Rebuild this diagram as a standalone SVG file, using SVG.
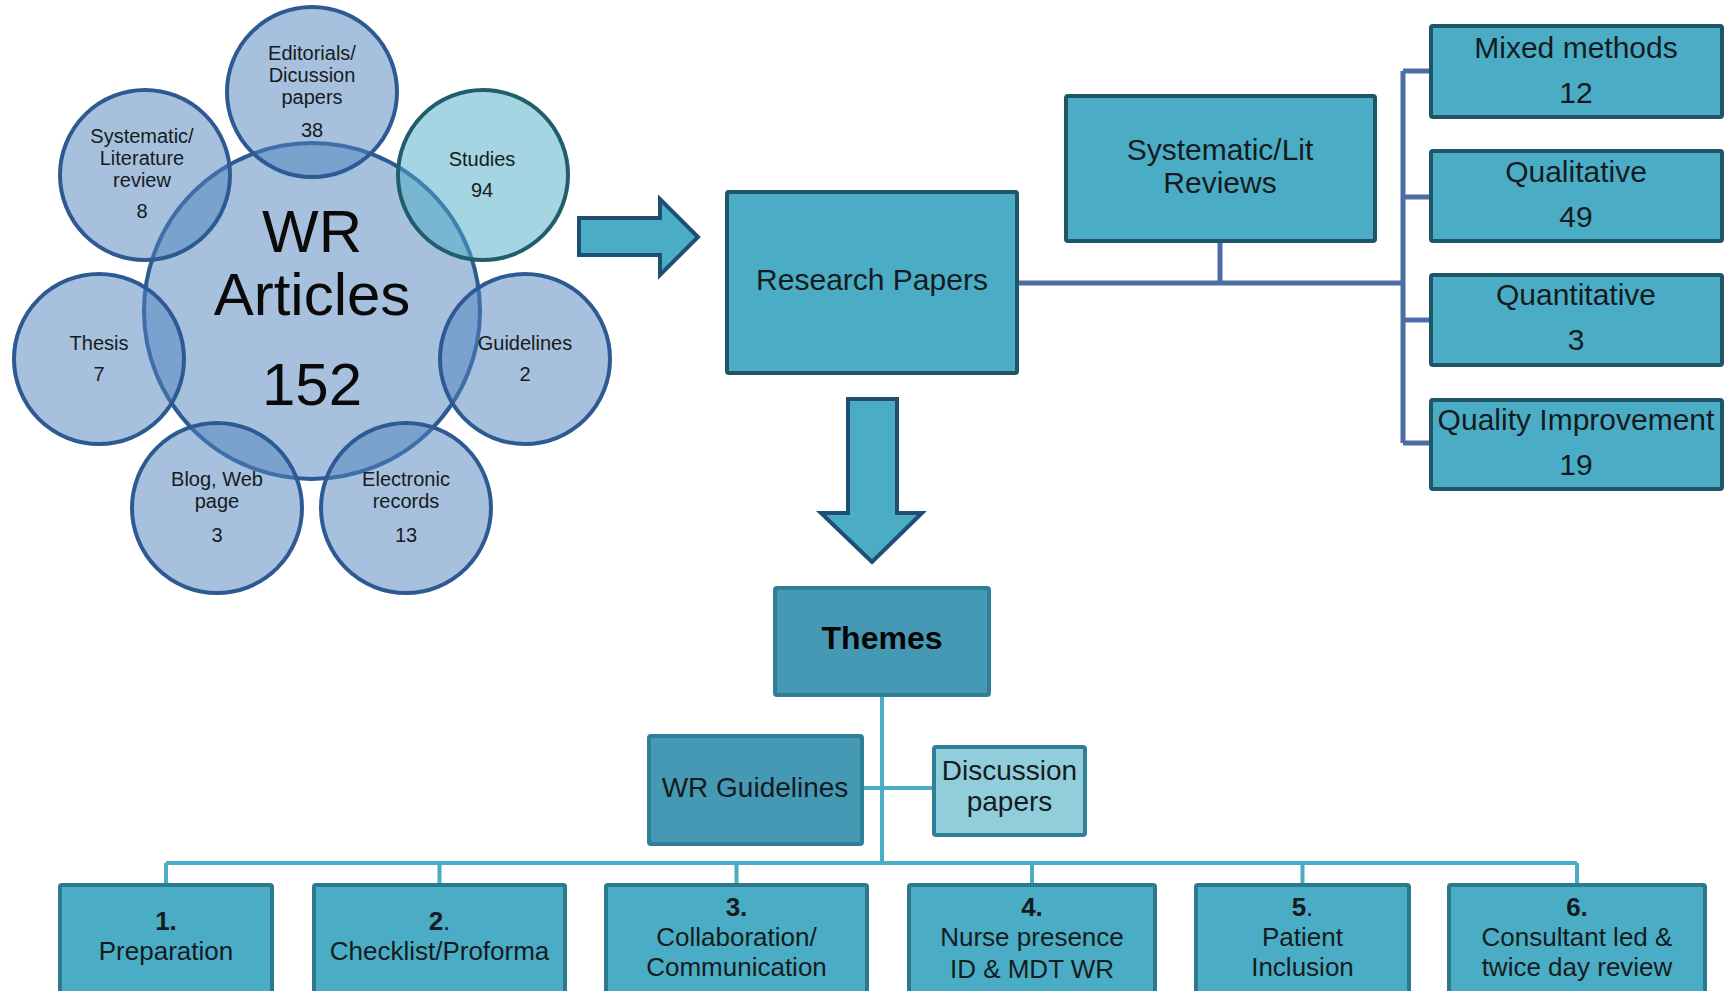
<svg xmlns="http://www.w3.org/2000/svg" width="1730" height="991" viewBox="0 0 1730 991">
  <style>
    text { font-family: "Liberation Sans", Arial, sans-serif; fill: #141c20; text-anchor: middle; }
    .bubble { fill: #4f81bd; fill-opacity: 0.5; stroke: #2e5a93; stroke-width: 4; }
    .bubble-study { fill: #4bacc6; fill-opacity: 0.5; stroke: #205e6c; stroke-width: 4; }
    .ct { font-size: 20px; }
    .big { font-size: 60px; fill: #0a0a0a; }
    .box { fill: #4bacc6; stroke: #1f5566; stroke-width: 4; }
    .box-dark { fill: #4699b5; stroke: #2f7f98; stroke-width: 4; }
    .box-light { fill: #92cddc; stroke: #2f7f98; stroke-width: 4; }
    .box-theme { fill: #4bacc6; stroke: #2c7990; stroke-width: 4; }
    .arrow { fill: #4bacc6; stroke: #1f4f70; stroke-width: 4; stroke-linejoin: miter; }
    .t30 { font-size: 30px; }
    .t28 { font-size: 28px; }
    .t26 { font-size: 26px; }
    .num { font-weight: bold; }
    .link-blue { fill: none; stroke: #4d6da8; stroke-width: 5; }
    .link-cyan { fill: none; stroke: #4bacc6; stroke-width: 4; }
  </style>

  <!-- connectors -->
  <g id="connectors">
    <!-- research papers to review box and method boxes -->
    <path class="link-blue" d="M1017 283 H1403 M1220 241 V283 M1403 71 V443 M1403 71 H1431 M1403 197 H1431 M1403 320 H1431 M1403 443 H1431"/>
    <!-- themes tree -->
    <path class="link-cyan" d="M882 695 V863 M862 788 H934 M166 863 H1577 M166 863 V885 M439.5 863 V885 M736.5 863 V885 M1032 863 V885 M1302.5 863 V885 M1577 863 V885"/>
  </g>

  <!-- article-type bubbles -->
  <g id="wr-articles">
    <circle class="bubble" cx="312" cy="311" r="168"/>
  </g>
  <g id="editorials">
    <circle class="bubble" cx="312" cy="92" r="85"/>
    <text class="ct" x="312" y="60">Editorials/</text>
    <text class="ct" x="312" y="82">Dicussion</text>
    <text class="ct" x="312" y="104">papers</text>
    <text class="ct" x="312" y="137">38</text>
  </g>
  <g id="systematic-literature">
    <circle class="bubble" cx="145" cy="175" r="85"/>
    <text class="ct" x="142" y="143">Systematic/</text>
    <text class="ct" x="142" y="165">Literature</text>
    <text class="ct" x="142" y="187">review</text>
    <text class="ct" x="142" y="218">8</text>
  </g>
  <g id="studies">
    <circle class="bubble-study" cx="483" cy="175" r="85"/>
    <text class="ct" x="482" y="166">Studies</text>
    <text class="ct" x="482" y="197">94</text>
  </g>
  <g id="thesis">
    <circle class="bubble" cx="99" cy="359" r="85"/>
    <text class="ct" x="99" y="350">Thesis</text>
    <text class="ct" x="99" y="381">7</text>
  </g>
  <g id="guidelines">
    <circle class="bubble" cx="525" cy="359" r="85"/>
    <text class="ct" x="525" y="350">Guidelines</text>
    <text class="ct" x="525" y="381">2</text>
  </g>
  <g id="blog-web">
    <circle class="bubble" cx="217" cy="508" r="85"/>
    <text class="ct" x="217" y="486">Blog, Web</text>
    <text class="ct" x="217" y="508">page</text>
    <text class="ct" x="217" y="542">3</text>
  </g>
  <g id="electronic-records">
    <circle class="bubble" cx="406" cy="508" r="85"/>
    <text class="ct" x="406" y="486">Electronic</text>
    <text class="ct" x="406" y="508">records</text>
    <text class="ct" x="406" y="542">13</text>
  </g>
  <g id="wr-articles-label">
    <text class="big" x="312" y="252">WR</text>
    <text class="big" x="312" y="315">Articles</text>
    <text class="big" x="312" y="405">152</text>
  </g>

  <!-- block arrows -->
  <g id="arrow-right">
    <polygon class="arrow" points="579,218 660,218 660,199 698,237 660,275 660,255 579,255"/>
  </g>
  <g id="arrow-down">
    <polygon class="arrow" points="848,399 897,399 897,513 922,513 872,562 821,513 848,513"/>
  </g>

  <!-- research branch -->
  <g id="research-papers">
    <rect class="box" x="727" y="192" width="290" height="181" rx="2"/>
    <text class="t30" x="872" y="290">Research Papers</text>
  </g>
  <g id="systematic-lit-reviews">
    <rect class="box" x="1066" y="96" width="309" height="145" rx="2"/>
    <text class="t30" x="1220" y="160">Systematic/Lit</text>
    <text class="t30" x="1220" y="193">Reviews</text>
  </g>
  <g id="mixed-methods">
    <rect class="box" x="1431" y="26" width="291" height="91" rx="2"/>
    <text class="t30" x="1576" y="58">Mixed methods</text>
    <text class="t30" x="1576" y="103">12</text>
  </g>
  <g id="qualitative">
    <rect class="box" x="1431" y="151" width="291" height="90" rx="2"/>
    <text class="t30" x="1576" y="182">Qualitative</text>
    <text class="t30" x="1576" y="227">49</text>
  </g>
  <g id="quantitative">
    <rect class="box" x="1431" y="275" width="291" height="90" rx="2"/>
    <text class="t30" x="1576" y="305">Quantitative</text>
    <text class="t30" x="1576" y="350">3</text>
  </g>
  <g id="quality-improvement">
    <rect class="box" x="1431" y="400" width="291" height="89" rx="2"/>
    <text class="t30" x="1576" y="430">Quality Improvement</text>
    <text class="t30" x="1576" y="475">19</text>
  </g>

  <!-- themes branch -->
  <g id="themes">
    <rect class="box-dark" x="775" y="588" width="214" height="107" rx="2"/>
    <text x="882" y="649" style="font-size:32px;font-weight:bold;fill:#050505">Themes</text>
  </g>
  <g id="wr-guidelines">
    <rect class="box-dark" x="649" y="736" width="213" height="108" rx="2"/>
    <text class="t28" x="755" y="797">WR Guidelines</text>
  </g>
  <g id="discussion-papers">
    <rect class="box-light" x="934" y="747" width="151" height="88" rx="2"/>
    <text class="t28" x="1009.5" y="780">Discussion</text>
    <text class="t28" x="1009.5" y="811">papers</text>
  </g>

  <g id="theme-1">
    <rect class="box-theme" x="60" y="885" width="212" height="120" rx="2"/>
    <text class="t26 num" x="166" y="930">1.</text>
    <text class="t26" x="166" y="960">Preparation</text>
  </g>
  <g id="theme-2">
    <rect class="box-theme" x="314" y="885" width="251" height="120" rx="2"/>
    <text class="t26" x="439.5" y="930"><tspan class="num">2</tspan>.</text>
    <text class="t26" x="439.5" y="960">Checklist/Proforma</text>
  </g>
  <g id="theme-3">
    <rect class="box-theme" x="606" y="885" width="261" height="120" rx="2"/>
    <text class="t26 num" x="736.5" y="916">3.</text>
    <text class="t26" x="736.5" y="946">Collaboration/</text>
    <text class="t26" x="736.5" y="976">Communication</text>
  </g>
  <g id="theme-4">
    <rect class="box-theme" x="909" y="885" width="246" height="120" rx="2"/>
    <text class="t26 num" x="1032" y="916">4.</text>
    <text class="t26" x="1032" y="946">Nurse presence</text>
    <text class="t26" x="1032" y="978">ID &amp; MDT WR</text>
  </g>
  <g id="theme-5">
    <rect class="box-theme" x="1196" y="885" width="213" height="120" rx="2"/>
    <text class="t26" x="1302.5" y="916"><tspan class="num">5</tspan>.</text>
    <text class="t26" x="1302.5" y="946">Patient</text>
    <text class="t26" x="1302.5" y="976">Inclusion</text>
  </g>
  <g id="theme-6">
    <rect class="box-theme" x="1449" y="885" width="256" height="120" rx="2"/>
    <text class="t26 num" x="1577" y="916">6.</text>
    <text class="t26" x="1577" y="946">Consultant led &amp;</text>
    <text class="t26" x="1577" y="976">twice day review</text>
  </g>
</svg>
